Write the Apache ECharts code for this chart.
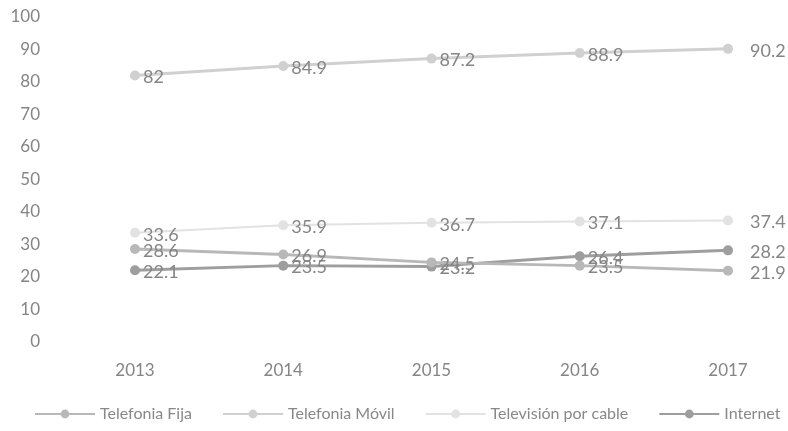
<!DOCTYPE html>
<html><head><meta charset="utf-8">
<script src="https://cdn.jsdelivr.net/npm/echarts@6/dist/echarts.min.js"></script>
<style>html,body{margin:0;padding:0;background:#fff}#c{width:788px;height:431px}</style>
</head><body><div id="c"></div>
<script>
const years = ['2013','2014','2015','2016','2017'];
const seriesNames = ['Telefonia Fija','Telefonia Móvil','Televisión por cable','Internet'];
const fija = [28.6, 26.9, 24.5, 23.5, 21.9];
const movil = [82, 84.9, 87.2, 88.9, 90.2];
const cable = [33.6, 35.9, 36.7, 37.1, 37.4];
const internet = [22.1, 23.5, 23.2, 26.4, 28.2];
const yTicks = [0,10,20,30,40,50,60,70,80,90,100];

const colors = ['#b8b8b8','#d0d0d0','#e2e2e2','#9e9e9e'];
const widths = [3,3,2,3];
const font = 'Lato, "Open Sans", sans-serif';

function mk(name, vals, i){
  return {
    name: name, type: 'line', data: vals.map((v, k) => k === vals.length - 1
      ? {value: v, label: {offset: [14, 2]}} : v),
    symbol: 'circle', symbolSize: 10, z: 10 - i,
    lineStyle: {color: colors[i], width: widths[i]},
    itemStyle: {color: colors[i]},
    label: {show: true, position: 'right', distance: 3, offset: [0, 2],
      color: '#858585', fontSize: 18, fontFamily: font},
    emphasis: {disabled: true}
  };
}

const chart = echarts.init(document.getElementById('c'));
chart.setOption({
  animation: false,
  grid: {left: 135, right: 60, top: 17, bottom: 89},
  xAxis: {type: 'category', data: years, boundaryGap: false,
    axisLine: {show: false}, axisTick: {show: false},
    axisLabel: {color: '#858585', fontSize: 17, fontFamily: font, margin: 20}},
  yAxis: {type: 'value', min: yTicks[0], max: yTicks[yTicks.length-1], interval: 10,
    splitLine: {show: false}, axisLine: {show: false}, axisTick: {show: false},
    axisLabel: {color: '#858585', fontSize: 17, fontFamily: font, margin: 95}},
  legend: {bottom: 9, left: 34, width: 760, padding: 0, itemWidth: 60, itemHeight: 11, itemGap: 30,
    textStyle: {color: '#888888', fontSize: 16, fontFamily: font},
    data: seriesNames},
  series: [mk(seriesNames[0], fija, 0), mk(seriesNames[1], movil, 1),
           mk(seriesNames[2], cable, 2), mk(seriesNames[3], internet, 3)]
});
</script></body></html>
